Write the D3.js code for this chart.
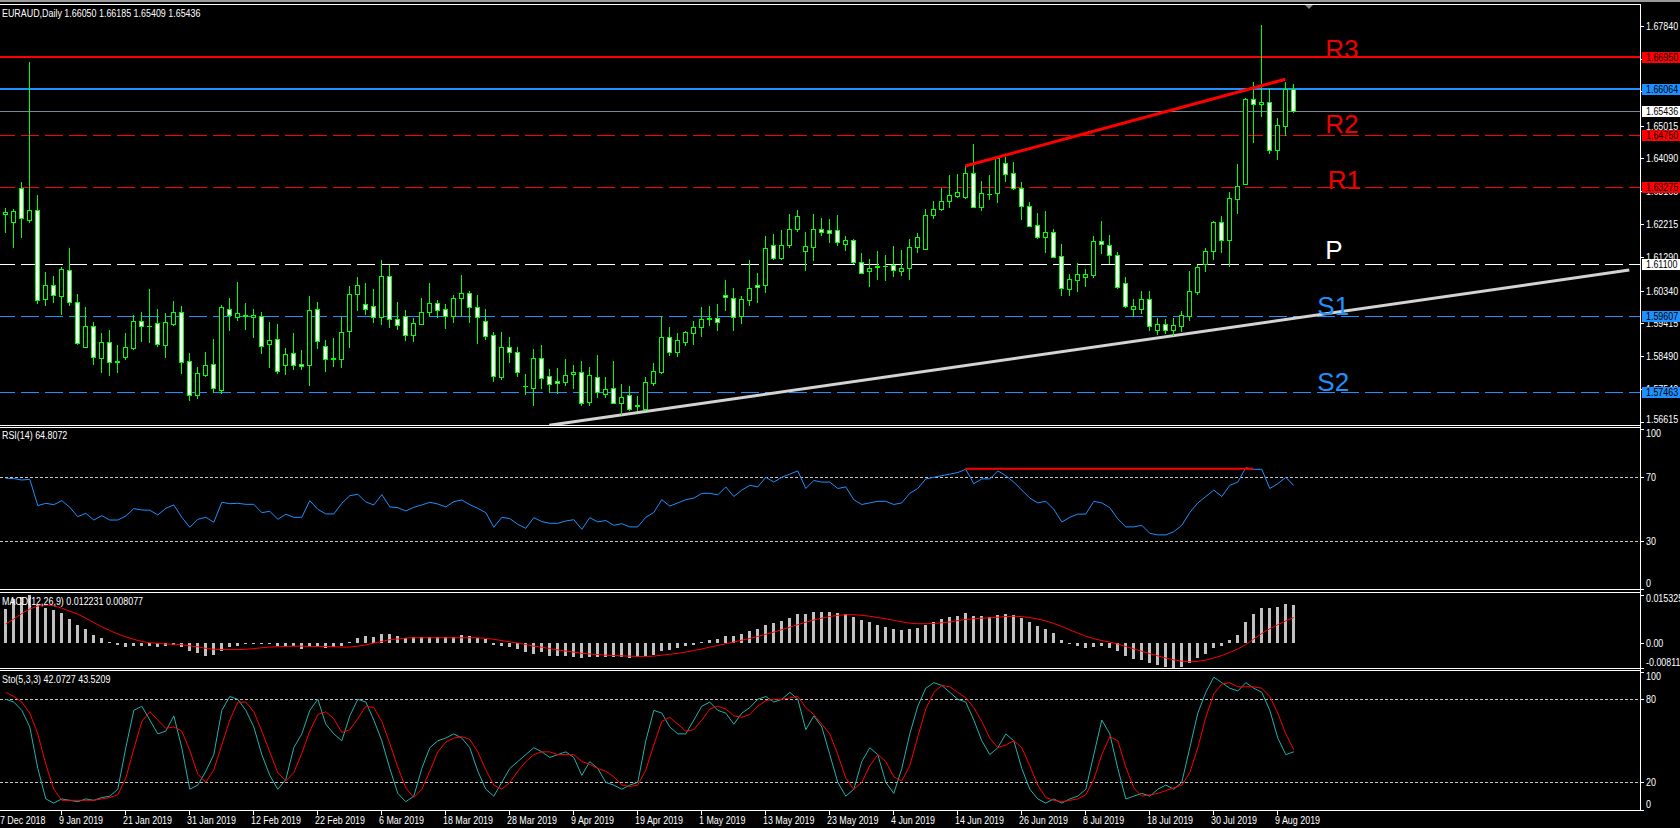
<!DOCTYPE html>
<html><head><meta charset="utf-8">
<script src="https://cdn.jsdelivr.net/npm/d3@7/dist/d3.min.js"></script>
<style>
body{margin:0;background:#000;overflow:hidden}
svg{display:block}
.t{font-family:"Liberation Sans",Arial,sans-serif;font-size:11px;fill:#fff}
</style></head><body>
<svg id="c" width="1680" height="828"></svg>
<script>
const titleText = "EURAUD,Daily  1.66050 1.66185 1.65409 1.65436";
const rsiTitle = "RSI(14) 64.8072";
const macdTitle = "MACD(12,26,9) 0.012231 0.008077";
const stoTitle = "Sto(5,3,3) 42.0727 43.5209";

// daily bars 28 Dec 2018 .. 13 Aug 2019
const opens = [1.6250,1.6229,1.6324,1.6235,1.6262,1.6011,1.6049,1.6019,1.6091,1.6001,
1.5875,1.5933,1.5842,1.5887,1.5831,1.5846,1.5872,1.5947,1.5933,1.5941,
1.5880,1.5940,1.5972,1.5833,1.5738,1.5795,1.5825,1.5752,1.5983,1.5958,
1.5964,1.5958,1.5961,1.5881,1.5896,1.5822,1.5856,1.5825,1.5822,1.5981,
1.5876,1.5841,1.5841,1.5920,1.6025,1.5995,1.5989,1.5958,1.6074,1.5952,
1.5961,1.5909,1.5940,1.5972,1.5998,1.5981,1.5961,1.6012,1.6026,1.5986,
1.5947,1.5907,1.5790,1.5873,1.5859,1.5762,1.5758,1.5842,1.5791,1.5777,
1.5776,1.5797,1.5802,1.5719,1.5788,1.5740,1.5757,1.5716,1.5737,1.5707,
1.5699,1.5773,1.5804,1.5901,1.5860,1.5888,1.5914,1.5930,1.5954,1.5955,
1.6020,1.6014,1.5963,1.6008,1.6050,1.6051,1.6162,1.6126,1.6164,1.6209,
1.6147,1.6158,1.6208,1.6205,1.6205,1.6167,1.6176,1.6116,1.6090,1.6102,
1.6104,1.6106,1.6090,1.6099,1.6158,1.6153,1.6249,1.6266,1.6289,1.6303,
1.6298,1.6366,1.6272,1.6307,1.6310,1.6395,1.6366,1.6326,1.6273,1.6219,
1.6185,1.6199,1.6131,1.6039,1.6065,1.6073,1.6079,1.6173,1.6162,1.6134,
1.6054,1.5983,1.5981,1.6009,1.5922,1.5939,1.5922,1.5933,1.5963,1.6031,
1.6108,1.6145,1.6228,1.6176,1.6294,1.6335,1.6576,1.6562,1.6568,1.6432,
1.6500,1.66050];
const highs = [1.6268,1.6264,1.6342,1.6682,1.6305,1.6087,1.6075,1.6100,1.6155,1.6024,
1.5987,1.5945,1.5914,1.5921,1.5880,1.5914,1.5965,1.5973,1.6038,1.5982,
1.5970,1.6004,1.5990,1.5857,1.5817,1.5860,1.5897,1.5993,1.6012,1.6058,
1.5998,1.5982,1.5973,1.5945,1.5939,1.5871,1.5914,1.5865,1.6018,1.6001,
1.5893,1.5899,1.5958,1.6047,1.6072,1.6054,1.6038,1.6120,1.6107,1.6001,
1.5979,1.5956,1.6013,1.6055,1.6007,1.5996,1.6020,1.6078,1.6033,1.6020,
1.5981,1.5916,1.5916,1.5902,1.5874,1.5797,1.5868,1.5880,1.5811,1.5814,
1.5840,1.5823,1.5834,1.5817,1.5851,1.5789,1.5834,1.5769,1.5763,1.5735,
1.5789,1.5829,1.5961,1.5930,1.5914,1.5919,1.5947,1.5987,1.5990,1.5996,
1.6064,1.6040,1.6018,1.6120,1.6083,1.6189,1.6194,1.6206,1.6251,1.6262,
1.6200,1.6251,1.6240,1.6237,1.6248,1.6189,1.6179,1.6140,1.6123,1.6146,
1.6135,1.6160,1.6149,1.6180,1.6197,1.6264,1.6288,1.6325,1.6361,1.6364,
1.6387,1.6449,1.6344,1.6361,1.6415,1.6413,1.6398,1.6341,1.6285,1.6254,
1.6260,1.6208,1.6166,1.6081,1.6111,1.6095,1.6189,1.6231,1.6191,1.6142,
1.6072,1.6009,1.6033,1.6033,1.5956,1.5953,1.5956,1.5976,1.6089,1.6106,
1.6155,1.6232,1.6245,1.6312,1.6393,1.6579,1.6625,1.6787,1.6607,1.6523,
1.6625,1.66185];
const lows = [1.6201,1.6158,1.6187,1.6229,1.5999,1.5993,1.6001,1.5967,1.5993,1.5882,
1.5875,1.5826,1.5804,1.5795,1.5803,1.5841,1.5868,1.5891,1.5887,1.5877,
1.5846,1.5936,1.5801,1.5724,1.5729,1.5792,1.5746,1.5743,1.5923,1.5951,
1.5925,1.5903,1.5858,1.5818,1.5801,1.5797,1.5812,1.5812,1.5766,1.5870,
1.5807,1.5820,1.5818,1.5875,1.5979,1.5967,1.5945,1.5939,1.5931,1.5926,
1.5894,1.5891,1.5940,1.5961,1.5958,1.5928,1.5946,1.5964,1.5946,1.5886,
1.5896,1.5778,1.5784,1.5832,1.5793,1.5741,1.5709,1.5758,1.5747,1.5744,
1.5767,1.5757,1.5710,1.5710,1.5733,1.5733,1.5716,1.5683,1.5695,1.5695,
1.5695,1.5767,1.5801,1.5851,1.5848,1.5880,1.5882,1.5905,1.5936,1.5922,
1.5979,1.5922,1.5943,1.5994,1.6002,1.6030,1.6123,1.6123,1.6158,1.6204,
1.6092,1.6121,1.6191,1.6172,1.6163,1.6149,1.6111,1.6083,1.6048,1.6067,
1.6064,1.6076,1.6078,1.6067,1.6142,1.6153,1.6240,1.6262,1.6272,1.6300,
1.6296,1.6272,1.6262,1.6294,1.6286,1.6344,1.6322,1.6237,1.6218,1.6182,
1.6144,1.6130,1.6021,1.6021,1.6033,1.6048,1.6072,1.6139,1.6113,1.6042,
1.5988,1.5962,1.5969,1.5922,1.5911,1.5913,1.5908,1.5919,1.5950,1.6024,
1.6090,1.6123,1.6144,1.6104,1.6255,1.6335,1.6456,1.6530,1.6425,1.6406,
1.6474,1.65409];
const closes = [1.6257,1.6259,1.6239,1.6261,1.6006,1.6049,1.6020,1.6094,1.6001,1.5886,
1.5933,1.5845,1.5887,1.5831,1.5834,1.5873,1.5947,1.5933,1.5934,1.5883,
1.5944,1.5972,1.5832,1.5738,1.5799,1.5822,1.5758,1.5986,1.5964,1.5969,
1.5963,1.5964,1.5877,1.5893,1.5807,1.5853,1.5822,1.5819,1.5978,1.5892,
1.5839,1.5842,1.5915,1.6023,1.6049,1.5983,1.5958,1.6074,1.5952,1.5937,
1.5909,1.5941,1.5972,1.5998,1.5978,1.5961,1.6012,1.6026,1.5986,1.5958,
1.5904,1.5793,1.5873,1.5859,1.5804,1.5763,1.5842,1.5787,1.5770,1.5771,
1.5794,1.5802,1.5716,1.5794,1.5747,1.5754,1.5716,1.5731,1.5699,1.5708,
1.5774,1.5805,1.5901,1.5861,1.5894,1.5916,1.5930,1.5952,1.5955,1.5946,
1.6015,1.5958,1.6009,1.6040,1.6043,1.6154,1.6127,1.6162,1.6208,1.6244,
1.6159,1.6208,1.6199,1.6198,1.6172,1.6176,1.6114,1.6085,1.6097,1.6103,
1.6103,1.6091,1.6097,1.6157,1.6186,1.6247,1.6264,1.6287,1.6304,1.6312,
1.6366,1.6272,1.6310,1.6308,1.6409,1.6364,1.6324,1.6273,1.6218,1.6187,
1.6199,1.6130,1.6040,1.6066,1.6080,1.6080,1.6174,1.6165,1.6134,1.6045,
1.5989,1.5990,1.6009,1.5933,1.5939,1.5922,1.5936,1.5965,1.6033,1.6100,
1.6146,1.6228,1.6176,1.6295,1.6329,1.6576,1.6562,1.6568,1.6432,1.6502,
1.6605,1.65436];

const rsiValues = [69.4,69.2,68.3,68.75,52.3,53.75,52.9,55.4,51.25,45.4,
47.5,43.3,46,43.3,43.3,45.8,50.4,49.6,49.4,46.5,
50.6,52.7,45,38.75,43.75,45,41.9,54.4,53.5,53.75,
53.1,53.1,47.9,48.75,43.75,46.9,45,45,55.4,50,
47.1,47.1,53.75,58.5,59.4,54.6,52.7,59.2,51.5,51,
49,51.25,52.7,54.4,53.3,51.5,54.8,55.8,52.9,50.6,
47.9,38.75,45,44.2,40.6,38.1,44.8,42.3,41.25,41.25,
42.7,43.5,37.5,44.8,42.1,43,40,41,39,39,
45,48,56,52,54,56,57,60,60,59,
64,58,62,65,64,70,67,70,72,74,
63,68,67,67,63,64,56,53,54,55,
55,53,54,60,63,69,70,71,72,73,
75,66,69,69,74,71,67,62,57,54,
55,50,42,45,47,47,55,54,51,44,
39,39,40,35,34,34,36,40,48,54,
58,62,58,65,67,76,75,75,63,66,
70,64.8072];

const macdMain = [0.0108,0.0140,0.0146,0.015325,0.0122,0.0113,0.0105,0.0094,0.0076,0.0058,
0.0044,0.0025,0.0015,0.0003,-0.0007,-0.0015,-0.0012,-0.0011,-0.0012,-0.0015,
-0.0011,-0.0006,-0.0014,-0.0028,-0.0034,-0.0041,-0.0039,-0.0028,-0.0013,-0.0012,
-0.0004,-0.0003,-0.0003,-0.0004,-0.0012,-0.0012,-0.0010,-0.0021,-0.0009,-0.0010,
-0.0016,-0.0013,-0.0011,0.0003,0.0016,0.0021,0.0019,0.0029,0.0028,0.0022,
0.0016,0.0017,0.0017,0.0017,0.0017,0.0017,0.0017,0.0026,0.0022,0.0015,
0.0013,-0.0006,-0.0009,-0.0015,-0.0021,-0.0031,-0.0035,-0.0030,-0.0043,-0.0043,
-0.0043,-0.0045,-0.0050,-0.0047,-0.0047,-0.0046,-0.0047,-0.0047,-0.0048,-0.0047,
-0.0043,-0.0038,-0.0028,-0.0024,-0.0018,-0.0012,-0.0006,0.0002,0.0008,0.0012,
0.0022,0.0023,0.0029,0.0038,0.0044,0.0058,0.0064,0.0071,0.0081,0.0091,
0.0093,0.0099,0.0100,0.0100,0.0096,0.0093,0.0083,0.0073,0.0065,0.0058,
0.0052,0.0045,0.0041,0.0043,0.0047,0.0058,0.0067,0.0075,0.0082,0.0087,
0.0095,0.0087,0.0085,0.0083,0.0090,0.0092,0.0089,0.0080,0.0067,0.0054,
0.0045,0.0031,0.0010,-0.0003,-0.0012,-0.0018,-0.0013,-0.0012,-0.0016,-0.0028,
-0.0042,-0.0051,-0.0056,-0.0066,-0.0072,-0.0077,-0.0081,-0.0078,-0.0065,-0.0050,
-0.0035,-0.0018,-0.0009,0.0010,0.0025,0.0065,0.0092,0.0110,0.0112,0.0116,
0.0125,0.012231];
const macdSignal = [0.0060,0.0076,0.0094,0.0108,0.0118,0.0121,0.0119,0.0111,0.0101,0.0092,
0.0079,0.0065,0.0051,0.0039,0.0028,0.0019,0.0011,0.0004,0.0000,-0.0002,
-0.0004,-0.0005,-0.0006,-0.0010,-0.0013,-0.0018,-0.0021,-0.0022,-0.0022,-0.0022,
-0.0021,-0.0019,-0.0016,-0.0014,-0.0013,-0.0012,-0.0011,-0.0011,-0.0012,-0.0012,
-0.0012,-0.0013,-0.0014,-0.0014,-0.0011,-0.0007,-0.0001,0.0004,0.0010,0.0012,
0.0015,0.0016,0.0016,0.0016,0.0016,0.0016,0.0016,0.0016,0.0016,0.0016,
0.0014,0.0011,0.0007,0.0003,-0.0001,-0.0006,-0.0011,-0.0014,-0.0019,-0.0023,
-0.0027,-0.0030,-0.0034,-0.0036,-0.0038,-0.0040,-0.0041,-0.0042,-0.0043,-0.0044,
-0.0044,-0.0043,-0.0040,-0.0037,-0.0034,-0.0030,-0.0025,-0.0020,-0.0014,-0.0009,
-0.0003,0.0002,0.0008,0.0014,0.0020,0.0027,0.0034,0.0042,0.0050,0.0058,
0.0066,0.0073,0.0079,0.0084,0.0088,0.0090,0.0090,0.0088,0.0085,0.0081,
0.0077,0.0072,0.0067,0.0063,0.0061,0.0061,0.0062,0.0064,0.0067,0.0071,
0.0075,0.0077,0.0079,0.0080,0.0082,0.0084,0.0085,0.0084,0.0081,0.0076,
0.0070,0.0062,0.0052,0.0041,0.0031,0.0021,0.0013,0.0007,0.0002,-0.0004,
-0.0012,-0.0020,-0.0027,-0.0035,-0.0042,-0.0049,-0.0055,-0.0059,-0.0061,-0.0060,
-0.0056,-0.0049,-0.0041,-0.0031,-0.0020,-0.0006,0.0012,0.0030,0.0045,0.0058,
0.0070,0.008077];

const stoMain = [80,78,72,60,30,8,5,8,7,6,
8,7,9,10,15,45,72,75,65,55,
57,68,45,15,18,28,40,72,82,80,
72,60,40,25,15,22,45,55,72,80,
62,55,50,68,80,78,65,50,30,12,
6,10,30,45,50,52,55,52,45,28,
15,10,20,30,35,40,45,42,38,40,
42,38,25,35,30,20,18,15,18,20,
50,72,70,60,55,55,65,75,78,72,
70,62,70,74,80,82,78,80,85,80,
58,68,60,40,20,10,15,35,45,40,
20,12,30,55,75,88,92,90,85,80,
78,65,50,40,45,55,50,30,15,8,
5,8,5,8,10,15,40,65,55,30,
8,10,12,10,15,18,15,20,45,70,
85,96,92,88,86,92,88,85,72,52,
40,42.0727];
const stoSignal = [85,82,78,70,55,33,15,7,7,7,
7,7,8,9,11,23,44,64,71,65,
59,60,57,43,26,20,29,47,65,78,
78,71,57,42,27,21,27,41,57,69,
71,66,56,58,66,75,74,64,48,31,
16,9,15,28,42,49,52,53,51,42,
29,18,15,20,28,35,40,42,42,40,
40,40,35,33,30,28,24,18,17,18,
29,47,64,67,62,57,58,65,73,75,
73,68,67,69,75,79,80,80,81,82,
74,69,62,55,40,23,15,20,32,40,
35,24,21,32,53,73,85,90,89,85,
81,74,64,52,45,47,50,45,32,18,
9,7,6,7,8,11,22,40,53,50,
31,16,10,11,12,14,16,18,27,45,
67,84,91,92,89,89,89,88,82,70,
55,43.5209];

const xTickLabels = ["27 Dec 2018","9 Jan 2019","21 Jan 2019","31 Jan 2019","12 Feb 2019","22 Feb 2019","6 Mar 2019","18 Mar 2019","28 Mar 2019","9 Apr 2019","19 Apr 2019","1 May 2019","13 May 2019","23 May 2019","4 Jun 2019","14 Jun 2019","26 Jun 2019","8 Jul 2019","18 Jul 2019","30 Jul 2019","9 Aug 2019"];
const priceTicks = [1.67840,1.66915,1.65990,1.65015,1.64090,1.63165,1.62215,1.61290,1.60340,1.59415,1.58490,1.57540,1.56615];
const levelPrices = [1.66950,1.66064,1.65436,1.64750,1.63275,1.61100,1.59607,1.57463];
const levelNames  = ["R3","","","R2","R1","P","S1","S2"];
const rsiTicks = [100,70,30,0];
const rsiLevels = [70,30];
const macdTicks = [0.015325,0.0,-0.00811];
const stoTicks = [100,80,20,0];
const stoLevels = [80,20];
// trend lines: [slot, price]
const redTrend = [[121,1.6387],[161,1.6633]];
const whiteTrend = [[69,1.5652],[204,1.6092]];
const rsiRedLine = [[121,75.3],[157,75.3]];

// ---------- trading dates ----------
const dates = [];
{ let d = new Date(Date.UTC(2018,11,27));
  const end = new Date(Date.UTC(2019,7,13));
  while (d <= end) { const wd = d.getUTCDay();
    if (wd!==0 && wd!==6 && !(d.getUTCMonth()===0 && d.getUTCDate()===1)) dates.push(new Date(d));
    d = new Date(d.getTime()+86400000); } }
const mon = ["Jan","Feb","Mar","Apr","May","Jun","Jul","Aug","Sep","Oct","Nov","Dec"];
const fmt = d => d.getUTCDate()+" "+mon[d.getUTCMonth()]+" "+d.getUTCFullYear();
const slotOf = lbl => dates.findIndex(d => fmt(d)===lbl);

// ---------- layout ----------
const W = 1680, axisX = 1640, SX = 0.81;
const P = {main:[4.5,425.5], rsi:[427.5,589.5], macd:[592.5,668.5], sto:[670.5,810.5]};
const svg = d3.select("#c");
svg.append("rect").attr("width",W).attr("height",828).attr("fill","#000");
svg.append("rect").attr("x",0).attr("y",0).attr("width",W).attr("height",2).attr("fill","#9a9a9a");

function txt(parent, x, y, s, fill){
  const t = parent.append("text").attr("class","t").attr("transform",`translate(${x},${y}) scale(${SX},1)`).text(s);
  if (fill) t.style("fill", fill);
  return t;
}

const xs = d3.scaleLinear().domain([0,1]).range([-2.7,5.3]);
const ys = d3.scaleLinear().domain([1.56527,1.68435]).range([425,5]);
const yr = d3.scaleLinear().domain([0,100]).range([589.3,429.3]);
const ym = d3.scaleLinear().domain([-0.00811,0.015325]).range([668,595]);
const yst = d3.scaleLinear().domain([0,100]).range([810,671.6]);

const defs = svg.append("defs");
Object.entries(P).forEach(([k,[a,b]])=>{
  defs.append("clipPath").attr("id","cl-"+k).append("rect").attr("x",0).attr("y",a+0.5).attr("width",axisX).attr("height",b-a-1);
});
const g = k => svg.append("g").attr("clip-path","url(#cl-"+k+")");
const r5 = v => Math.round(v)+0.5;

// ---------- main: levels ----------
const gMain = g("main");
const levelStyle = [
 {c:"#ff0000",w:2,d:null},{c:"#1e90ff",w:2,d:null},{c:"#778899",w:1,d:null},
 {c:"#ff0000",w:1,d:"18,6"},{c:"#ff0000",w:1,d:"18,6"},{c:"#ffffff",w:1,d:"18,6"},
 {c:"#1e90ff",w:1,d:"18,6"},{c:"#1e90ff",w:1,d:"18,6"}];
levelPrices.forEach((p,i)=>{
  const s = levelStyle[i]; const y = s.w===2? Math.round(ys(p)) : r5(ys(p));
  gMain.append("line").attr("x1",0).attr("x2",axisX).attr("y1",y).attr("y2",y)
    .attr("stroke",s.c).attr("stroke-width",s.w).attr("stroke-dasharray",s.d).attr("stroke-dashoffset",2.7)
    .attr("shape-rendering","crispEdges");
});
const lineP = d3.line().x(d=>xs(d[0])).y(d=>ys(d[1]));
gMain.append("path").attr("d",lineP(whiteTrend)).attr("stroke","#d3d3d3").attr("stroke-width",3).attr("fill","none");

// candles
const gc = gMain.append("g").attr("shape-rendering","crispEdges");
opens.forEach((o,k)=>{
  const cx = Math.round(xs(k+1)), c = closes[k];
  const yH = Math.round(ys(highs[k])), yL = Math.round(ys(lows[k]));
  const yO = Math.round(ys(o)), yC = Math.round(ys(c));
  gc.append("line").attr("x1",cx+0.5).attr("x2",cx+0.5).attr("y1",yH).attr("y2",yL+1).attr("stroke","#00ff00");
  const top = Math.min(yO,yC), bot = Math.max(yO,yC);
  if (bot-top < 1) {
    gc.append("line").attr("x1",cx-2).attr("x2",cx+3).attr("y1",top+0.5).attr("y2",top+0.5).attr("stroke","#00ff00");
  } else {
    gc.append("rect").attr("x",cx-1.5).attr("y",top+0.5).attr("width",4).attr("height",bot-top)
      .attr("fill", c>=o ? "#000" : "#fff").attr("stroke","#00ff00");
  }
});
gMain.append("path").attr("d",lineP(redTrend)).attr("stroke","#ff0000").attr("stroke-width",3).attr("fill","none");

// level names
const nameColor = {R3:"#f00000",R2:"#f00000",R1:"#f00000",P:"#ffffff",S1:"#1e90ff",S2:"#1e90ff"};
const nameSlot = {R3:166,R2:166,R1:166.3,P:166,S1:165,S2:165};
const nameDy = {R3:1,R2:-2,R1:2,P:-5,S1:-1,S2:-1};
levelNames.forEach((n,i)=>{ if(!n) return;
  svg.append("text").attr("x",xs(nameSlot[n])).attr("y",ys(levelPrices[i])+nameDy[n])
    .attr("fill",nameColor[n]).style("font-family","'Liberation Sans',Arial,sans-serif").style("font-size","26px").text(n);
});

// ---------- RSI ----------
const gR = g("rsi");
rsiLevels.forEach(v=>gR.append("line").attr("x1",0).attr("x2",axisX).attr("y1",r5(yr(v))).attr("y2",r5(yr(v)))
  .attr("stroke","#c8c8c8").attr("stroke-dasharray","3,2").attr("shape-rendering","crispEdges"));
gR.append("path").attr("d",d3.line().x((d,k)=>xs(k+1)+0.5).y(d=>yr(d))(rsiValues)).attr("stroke","#1e90ff").attr("fill","none").attr("stroke-width",1);
gR.append("path").attr("d",d3.line().x(d=>xs(d[0])).y(d=>yr(d[1]))(rsiRedLine)).attr("stroke","#ff0000").attr("stroke-width",2).attr("fill","none");

// ---------- MACD ----------
const gM = g("macd");
const y0 = Math.round(ym(0));
macdMain.forEach((v,k)=>{ const cx = Math.round(xs(k+1)); const y1 = Math.round(ym(v));
  gM.append("rect").attr("x",cx-1).attr("width",3).attr("y",Math.min(y0,y1)).attr("height",Math.max(1,Math.abs(y1-y0)))
    .attr("fill","#c0c0c0").attr("shape-rendering","crispEdges"); });
gM.append("path").attr("d",d3.line().x((d,k)=>xs(k+1)+0.5).y(d=>ym(d))(macdSignal)).attr("stroke","#ff0000").attr("fill","none");

// ---------- Stochastic ----------
const gS = g("sto");
stoLevels.forEach(v=>gS.append("line").attr("x1",0).attr("x2",axisX).attr("y1",r5(yst(v))).attr("y2",r5(yst(v)))
  .attr("stroke","#c8c8c8").attr("stroke-dasharray","3,2").attr("shape-rendering","crispEdges"));
gS.append("path").attr("d",d3.line().x((d,k)=>xs(k+1)+0.5).y(d=>yst(d))(stoMain)).attr("stroke","#20b2aa").attr("fill","none");
gS.append("path").attr("d",d3.line().x((d,k)=>xs(k+1)+0.5).y(d=>yst(d))(stoSignal)).attr("stroke","#ff0000").attr("fill","none");

// ---------- frames ----------
const fr = svg.append("g").attr("stroke","#fff").attr("shape-rendering","crispEdges").attr("fill","none");
Object.values(P).forEach(([a,b])=>{
  fr.append("line").attr("x1",0).attr("x2",axisX+0.5).attr("y1",a).attr("y2",a);
  fr.append("line").attr("x1",0).attr("x2",axisX+0.5).attr("y1",b).attr("y2",b);
});
fr.append("line").attr("x1",axisX+0.5).attr("x2",axisX+0.5).attr("y1",4.5).attr("y2",810.5);
svg.append("path").attr("d","M1305,5 L1313,5 L1309,9 Z").attr("fill","#808080");

// ---------- right axes ----------
const ax = svg.append("g");
function tick(y, label, lo, hi){
  ax.append("line").attr("x1",axisX).attr("x2",axisX+4).attr("y1",r5(y)).attr("y2",r5(y)).attr("stroke","#fff").attr("shape-rendering","crispEdges");
  const ty = Math.max(lo+6, Math.min(hi-6, y));
  txt(ax, axisX+6, ty+4, label);
}
priceTicks.forEach(p=>tick(ys(p), p.toFixed(5), 4, 425));
const boxBg = ["#ff0000","#1e90ff","#ffffff","#ff0000","#ff0000","#ffffff","#1e90ff","#1e90ff"];
levelPrices.forEach((p,i)=>{ const y = Math.round(ys(p));
  ax.append("rect").attr("x",axisX+2).attr("y",y-5).attr("width",W-axisX-2).attr("height",11).attr("fill",boxBg[i]);
  txt(ax, axisX+6, y+4, p.toFixed(5), "#000");
});
rsiTicks.forEach(v=>tick(yr(v), String(v), 427, 589));
macdTicks.forEach(v=>tick(ym(v), v===0?"0.00":String(v), 592, 668));
stoTicks.forEach(v=>tick(yst(v), String(v), 670, 810));

// ---------- x axis ----------
xTickLabels.forEach(l=>{ const s = slotOf(l); const x = Math.round(xs(s));
  ax.append("line").attr("x1",x+0.5).attr("x2",x+0.5).attr("y1",810).attr("y2",815).attr("stroke","#fff").attr("shape-rendering","crispEdges");
  txt(ax, x-2, 824, l);
});

// ---------- titles ----------
txt(svg, 2, 17, titleText);
txt(svg, 2, 439, rsiTitle);
txt(svg, 2, 605, macdTitle);
txt(svg, 2, 683, stoTitle);
</script></body></html>
